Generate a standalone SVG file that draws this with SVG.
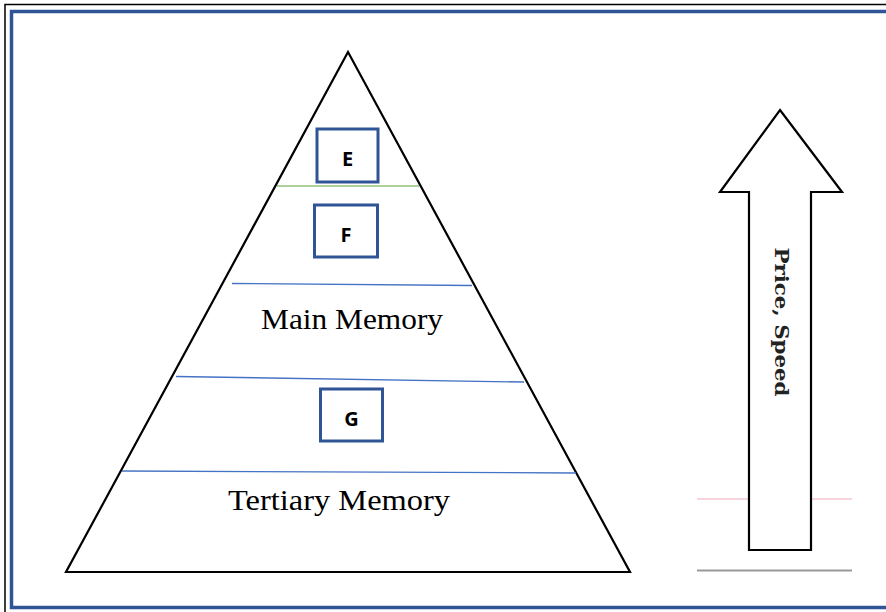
<svg xmlns="http://www.w3.org/2000/svg" width="886" height="612" viewBox="0 0 886 612">
<style>
.box{fill:#fff;stroke:#2f5597;stroke-width:3}
.lbl{font-family:"Open Sans","DejaVu Sans",sans-serif;font-weight:bold;font-size:20px;fill:#000;text-anchor:middle}
.srf{font-family:"Liberation Serif","Times New Roman",serif;font-size:30px;fill:#000;text-anchor:middle}
.div{stroke:#4472c4;stroke-width:1.3;fill:none}
</style>
<rect x="0" y="0" width="886" height="612" fill="#fff"/>
<rect x="5" y="4.5" width="900" height="620" fill="none" stroke="#000" stroke-width="1.5"/>
<rect x="11.5" y="11.5" width="900" height="596" fill="none" stroke="#2f5597" stroke-width="3.5"/>
<g id="pyramid">
<polygon points="348,52 66,572 630,572" fill="#fff" stroke="#000" stroke-width="2.2" stroke-linejoin="miter"/>
<line x1="277" y1="186" x2="419" y2="186" stroke="#8fc17a" stroke-width="1.5"/>
<line class="div" x1="232" y1="283.5" x2="472" y2="285.5"/>
<line class="div" x1="176" y1="376.5" x2="524" y2="382"/>
<line class="div" x1="122" y1="471" x2="576" y2="473"/>
</g>
<g id="E"><rect class="box" x="317" y="129" width="61" height="53"/><text class="lbl" x="347.5" y="166">E</text></g>
<g id="F"><rect class="box" x="314.5" y="205" width="63" height="52"/><text class="lbl" x="346" y="242">F</text></g>
<g id="main-memory"><text class="srf" x="352" y="329" textLength="182" lengthAdjust="spacingAndGlyphs">Main Memory</text></g>
<g id="G"><rect class="box" x="320.5" y="389" width="62" height="52"/><text class="lbl" x="351.5" y="426">G</text></g>
<g id="tertiary-memory"><text class="srf" x="339" y="510" textLength="222" lengthAdjust="spacingAndGlyphs">Tertiary Memory</text></g>
<g id="arrow">
<line x1="697" y1="499" x2="852" y2="499" stroke="#f4c7d0" stroke-width="1.5"/>
<polygon points="780,110 842,192 811,192 811,550 749,550 749,192 720,192" fill="#fff" stroke="#000" stroke-width="2.2"/>
<line x1="697" y1="570.5" x2="852" y2="570.5" stroke="#999" stroke-width="2"/>
<text transform="translate(775,322) rotate(90)" text-anchor="middle" font-family="'DejaVu Serif',serif" font-weight="bold" font-size="18" textLength="149" lengthAdjust="spacingAndGlyphs" fill="#222">Price, Speed</text>
</g>
</svg>
